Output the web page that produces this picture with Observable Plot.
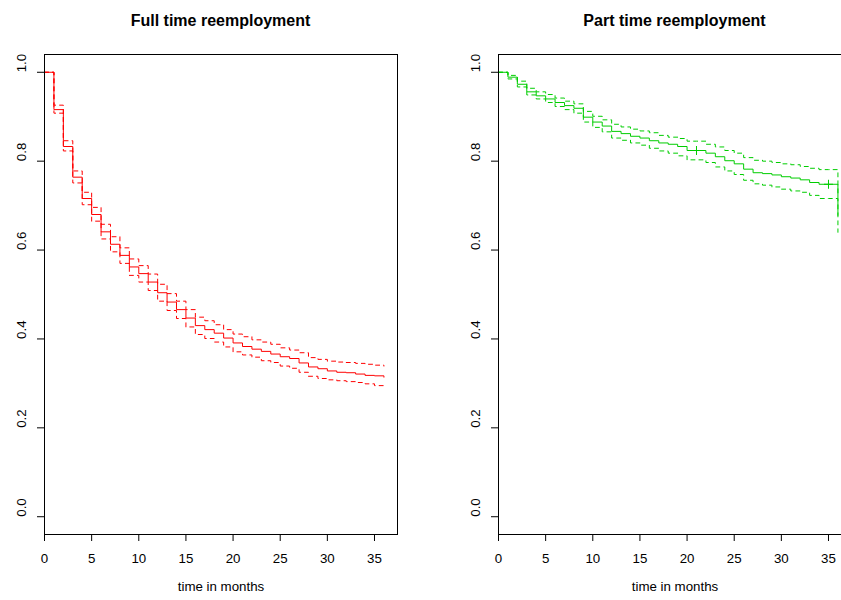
<!DOCTYPE html>
<html><head><meta charset="utf-8">
<script src="https://cdn.jsdelivr.net/npm/d3@7"></script>
<script src="https://cdn.jsdelivr.net/npm/@observablehq/plot@0.6"></script>
<style>
body{margin:0;background:#fff;overflow:hidden;}
#wrap{position:relative;width:841px;height:600px;overflow:hidden;background:#fff;font-family:"Liberation Sans",Arial,Helvetica,sans-serif;}
.title{position:absolute;top:11px;font-weight:bold;font-size:16px;line-height:20px;text-align:center;color:#000;white-space:nowrap;}
.panel{position:absolute;top:40px;height:560px;}
.panel svg{max-width:none;}
</style></head><body>
<div id="wrap">
  <div class="title" style="left:44px;width:353px">Full time reemployment</div>
  <div class="title" style="left:498px;width:353px">Part time reemployment</div>
  <div class="panel" id="p1" style="left:0;width:420px"></div>
  <div class="panel" id="p2" style="left:420px;width:441px"></div>
</div>
<script>
// ---- data ----
const months = [0,1,2,3,4,5,6,7,8,9,10,11,12,13,14,15,16,17,18,19,20,21,22,23,24,25,26,27,28,29,30,31,32,33,34,35,36];

const fullSurv  = [1.000,0.916,0.833,0.764,0.716,0.680,0.641,0.613,0.588,0.562,0.547,0.528,0.504,0.483,0.466,0.447,0.430,0.421,0.413,0.402,0.391,0.383,0.377,0.372,0.366,0.360,0.356,0.346,0.337,0.333,0.328,0.325,0.324,0.321,0.318,0.317,0.314];
const fullUpper = [1.000,0.926,0.846,0.778,0.730,0.696,0.658,0.630,0.605,0.580,0.565,0.546,0.523,0.502,0.485,0.466,0.449,0.441,0.432,0.421,0.411,0.405,0.398,0.393,0.388,0.380,0.375,0.369,0.358,0.354,0.350,0.348,0.347,0.345,0.343,0.341,0.339];
const fullLower = [1.000,0.908,0.823,0.751,0.702,0.665,0.625,0.596,0.570,0.543,0.528,0.509,0.485,0.464,0.446,0.427,0.410,0.401,0.393,0.382,0.371,0.364,0.359,0.351,0.347,0.339,0.334,0.325,0.316,0.311,0.308,0.306,0.304,0.302,0.299,0.295,0.292];

const partSurv  = [1.000,0.989,0.973,0.956,0.947,0.940,0.932,0.925,0.919,0.899,0.888,0.879,0.867,0.862,0.856,0.852,0.846,0.841,0.838,0.833,0.824,0.824,0.818,0.810,0.801,0.794,0.782,0.774,0.772,0.769,0.765,0.762,0.758,0.752,0.748,0.748,0.678];
const partUpper = [1.000,0.993,0.980,0.964,0.956,0.950,0.942,0.935,0.929,0.912,0.901,0.893,0.883,0.877,0.872,0.868,0.864,0.858,0.854,0.851,0.845,0.845,0.838,0.832,0.824,0.818,0.808,0.802,0.800,0.797,0.794,0.792,0.788,0.784,0.781,0.781,0.720];
const partLower = [1.000,0.985,0.967,0.949,0.940,0.932,0.923,0.916,0.908,0.888,0.876,0.866,0.852,0.847,0.841,0.836,0.829,0.823,0.818,0.812,0.803,0.803,0.797,0.787,0.778,0.770,0.757,0.749,0.746,0.742,0.737,0.733,0.730,0.723,0.716,0.716,0.640];

const partCensorTimes = [21, 35];
const partCensorSurv  = [0.824, 0.748];

const xTicks = [0,5,10,15,20,25,30,35];
const yTicks = [0,0.2,0.4,0.6,0.8,1.0];
const xLabel = "time in months";

// ---- drawing ----
const FONT = '"Liberation Sans", Arial, Helvetica, sans-serif';
const FS = 13.3;
const plusSym = {draw(ctx, size){ const r = Math.sqrt(size/Math.PI); ctx.moveTo(-r,0); ctx.lineTo(r,0); ctx.moveTo(0,-r); ctx.lineTo(0,r); }};

function rowsOf(s, u, l){ return months.map((t,i)=>({t, s:s[i], u:u[i], l:l[i]})); }

function panel(rows, color, width, marginLeft, marginRight, extra){
  return Plot.plot({
    width, height:560, marginLeft, marginRight, marginTop:14, marginBottom:66,
    style:{fontFamily:FONT, fontSize:FS+"px", background:"transparent", color:"black"},
    x:{domain:[0,37.44]},
    y:{domain:[-0.04,1.04]},
    marks:[
      Plot.line(rows,{x:"t",y:"u",curve:"step-after",stroke:color,strokeWidth:1,strokeDasharray:"4,4"}),
      Plot.line(rows,{x:"t",y:"l",curve:"step-after",stroke:color,strokeWidth:1,strokeDasharray:"4,4"}),
      Plot.line(rows,{x:"t",y:"s",curve:"step-after",stroke:color,strokeWidth:1}),
      ...extra,
      Plot.frame({stroke:"black",strokeWidth:1}),
      Plot.axisX({ticks:xTicks,tickSize:7,tickPadding:12,label:null,tickFormat:d=>String(d),fontSize:FS}),
      Plot.axisY({ticks:yTicks,tickSize:7,tickFormat:()=>"",label:null}),
      Plot.text(yTicks,{y:d=>d,text:d=>d3.format(".1f")(d),frameAnchor:"left",dx:-23,rotate:-90,fontSize:FS,fill:"black"}),
      Plot.text([xLabel],{text:d=>d,frameAnchor:"bottom",dy:56.5,fontSize:FS,fill:"black"})
    ]
  });
}

const red = "#FF0000", green = "#00CD00";
const censorRows = partCensorTimes.map((t,i)=>({t, s:partCensorSurv[i]}));

document.getElementById("p1").appendChild(
  panel(rowsOf(fullSurv,fullUpper,fullLower), red, 420, 44, 23, []));
document.getElementById("p2").appendChild(
  panel(rowsOf(partSurv,partUpper,partLower), green, 441, 78, 10, [
    Plot.dot(censorRows,{x:"t",y:"s",symbol:plusSym,r:4.5,stroke:green,fill:"none",strokeWidth:1})
  ]));
</script>
</body></html>
